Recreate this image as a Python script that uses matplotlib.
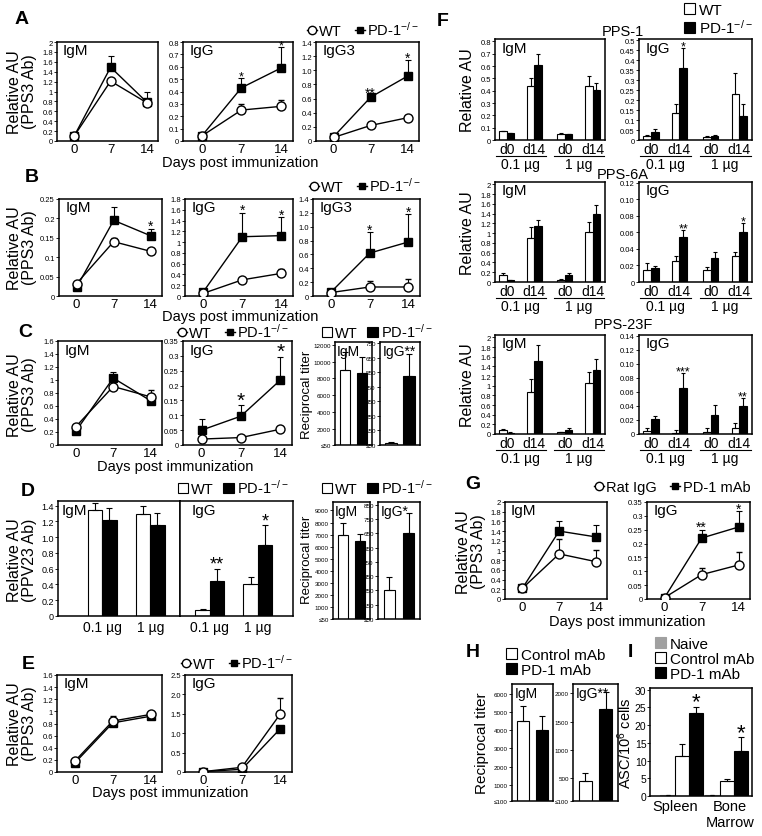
import matplotlib
matplotlib.use("Agg")
import matplotlib.pyplot as plt
import matplotlib.transforms as mtransforms
import numpy as np
from matplotlib.lines import Line2D
from matplotlib.patches import Patch

plt.rcParams['font.family'] = ['Liberation Sans', 'DejaVu Sans']
plt.rcParams['mathtext.default'] = 'regular'

W, H = 762, 837
KO = 'PD-1$^{-/-}$'
days = [0, 7, 14]

# ---- Panel A (PPS3, line plots)
a_igm_wt = [0.10, 1.21, 0.77]; a_igm_wt_e = [0.01, 0.02, 0.02]
a_igm_ko = [0.10, 1.49, 0.78]; a_igm_ko_e = [0.00, 0.22, 0.22]
a_igg_wt = [0.04, 0.25, 0.28]; a_igg_wt_e = [0.01, 0.05, 0.05]
a_igg_ko = [0.04, 0.43, 0.59]; a_igg_ko_e = [0.00, 0.08, 0.17]
a_igg3_wt = [0.05, 0.22, 0.33]; a_igg3_wt_e = [0.02, 0.05, 0.04]
a_igg3_ko = [0.06, 0.62, 0.92]; a_igg3_ko_e = [0.02, 0.02, 0.22]

# ---- Panel B
b_igm_wt = [0.032, 0.140, 0.115]; b_igm_wt_e = [0.003, 0.010, 0.010]
b_igm_ko = [0.022, 0.195, 0.155]; b_igm_ko_e = [0.000, 0.035, 0.018]
b_igg_wt = [0.05, 0.30, 0.42]; b_igg_wt_e = [0.03, 0.02, 0.08]
b_igg_ko = [0.08, 1.10, 1.12]; b_igg_ko_e = [0.03, 0.44, 0.34]
b_igg3_wt = [0.05, 0.13, 0.13]; b_igg3_wt_e = [0.01, 0.08, 0.12]
b_igg3_ko = [0.06, 0.62, 0.78]; b_igg3_ko_e = [0.02, 0.30, 0.40]

# ---- Panel C
c_igm_wt = [0.28, 0.90, 0.74]; c_igm_wt_e = [0.03, 0.03, 0.10]
c_igm_ko = [0.21, 1.03, 0.68]; c_igm_ko_e = [0.03, 0.09, 0.04]
c_igg_wt = [0.020, 0.025, 0.053]; c_igg_wt_e = [0.002, 0.002, 0.003]
c_igg_ko = [0.050, 0.097, 0.218]; c_igg_ko_e = [0.037, 0.037, 0.078]
c_titer_igm = [9000, 8700]; c_titer_igm_e = [2100, 1900]
c_titer_igg = [65, 525]; c_titer_igg_e = [6, 150]

# ---- Panel D (PPV23)
dose_labels = ['0.1 µg', '1 µg']
d_igm_wt = [1.35, 1.29]; d_igm_wt_e = [0.08, 0.11]
d_igm_ko = [1.22, 1.16]; d_igm_ko_e = [0.15, 0.15]
d_igg_wt = [0.07, 0.40]; d_igg_wt_e = [0.02, 0.10]
d_igg_ko = [0.44, 0.90]; d_igg_ko_e = [0.16, 0.25]
d_titer_igm = [7000, 6450]; d_titer_igm_e = [950, 630]
d_titer_igg = [250, 650]; d_titer_igg_e = [95, 145]

# ---- Panel E
e_igm_wt = [0.18, 0.84, 0.95]; e_igm_wt_e = [0.02, 0.08, 0.02]
e_igm_ko = [0.15, 0.81, 0.92]; e_igm_ko_e = [0.01, 0.02, 0.02]
e_igg_wt = [0.01, 0.12, 1.50]; e_igg_wt_e = [0.00, 0.03, 0.42]
e_igg_ko = [0.01, 0.07, 1.12]; e_igg_ko_e = [0.00, 0.01, 0.00]

# ---- Panel F (d0 / d14 at 0.1 and 1 µg)
f_days = ['d0', 'd14', 'd0', 'd14']
f1_igm_wt = [0.070, 0.44, 0.050, 0.44]; f1_igm_wt_e = [0.005, 0.065, 0.005, 0.08]
f1_igm_ko = [0.055, 0.61, 0.045, 0.41]; f1_igm_ko_e = [0.005, 0.09, 0.005, 0.05]
f1_igg_wt = [0.020, 0.135, 0.015, 0.23]; f1_igg_wt_e = [0.005, 0.045, 0.003, 0.105]
f1_igg_ko = [0.038, 0.360, 0.022, 0.12]; f1_igg_ko_e = [0.015, 0.10, 0.003, 0.06]
f6_igm_wt = [0.15, 0.90, 0.05, 1.02]; f6_igm_wt_e = [0.03, 0.22, 0.01, 0.22]
f6_igm_ko = [0.04, 1.15, 0.15, 1.40]; f6_igm_ko_e = [0.01, 0.12, 0.03, 0.18]
f6_igg_wt = [0.015, 0.025, 0.015, 0.032]; f6_igg_wt_e = [0.008, 0.006, 0.003, 0.004]
f6_igg_ko = [0.017, 0.054, 0.029, 0.061]; f6_igg_ko_e = [0.002, 0.009, 0.007, 0.010]
f23_igm_wt = [0.08, 0.87, 0.04, 1.05]; f23_igm_wt_e = [0.03, 0.27, 0.01, 0.23]
f23_igm_ko = [0.03, 1.52, 0.08, 1.33]; f23_igm_ko_e = [0.01, 0.33, 0.04, 0.22]
f23_igg_wt = [0.004, 0.001, 0.003, 0.009]; f23_igg_wt_e = [0.004, 0.005, 0.005, 0.006]
f23_igg_ko = [0.021, 0.065, 0.027, 0.040]; f23_igg_ko_e = [0.005, 0.022, 0.014, 0.011]

# ---- Panel G (Rat IgG vs PD-1 mAb)
g_igm_rat = [0.22, 0.93, 0.77]; g_igm_rat_e = [0.03, 0.30, 0.25]
g_igm_pd = [0.22, 1.40, 1.28]; g_igm_pd_e = [0.00, 0.20, 0.24]
g_igg_rat = [0.005, 0.088, 0.123]; g_igg_rat_e = [0.002, 0.025, 0.048]
g_igg_pd = [0.005, 0.220, 0.260]; g_igg_pd_e = [0.000, 0.030, 0.057]

# ---- Panel H
h_igm = [4500, 4000]; h_igm_e = [850, 760]
h_igg = [450, 1720]; h_igg_e = [150, 300]

# ---- Panel I
i_groups = ['Spleen', 'Bone\nMarrow']
i_naive = [0.3, 0.3]; i_naive_e = [0.1, 0.1]
i_ctrl = [11.3, 4.3]; i_ctrl_e = [3.4, 0.5]
i_pd1 = [23.3, 12.7]; i_pd1_e = [1.9, 3.9]

EK = dict(elinewidth=0.8, capthick=0.8, ecolor='k')

fig = plt.figure(figsize=(W / 100, H / 100), dpi=100)


def box(l, t, r, b):
    ax = fig.add_axes([l / W, 1 - b / H, (r - l) / W, (b - t) / H])
    for s in ax.spines.values():
        s.set_linewidth(1.1)
    return ax


def ftext(x, y, s, **kw):
    fig.text(x / W, 1 - y / H, s, **kw)


def gfmt(ticks):
    return ['%g' % v for v in ticks]


def dfmt(ticks, nd=1):
    return ['0'] + [('%.' + str(nd) + 'f') % v for v in ticks[1:]]


def yaxis(ax, ticks, labels, size=5.5, pad=1):
    ax.set_yticks(ticks)
    ax.set_yticklabels(labels)
    ax.tick_params(axis='y', labelsize=size, length=2, width=0.6, pad=pad)


def stars(ax, xs, tops, marks, size=10, dy=-3):
    for x, t, m in zip(xs, tops, marks):
        if m:
            ax.annotate(m, (x, t), xytext=(0, dy), textcoords='offset points',
                        ha='center', va='bottom', fontsize=size)


def name(ax, s, size=11):
    ax.text(0.06, 0.985, s, transform=ax.transAxes, ha='left', va='top', fontsize=size)


def line_panel(ax, wt, wt_e, ko, ko_e, ylim, ticks, labels, title, marks=None, ssize=10):
    z = np.zeros(3)
    ax.errorbar(days, ko, yerr=[z, ko_e], color='k', lw=1, marker='s', ms=5.5, mfc='k',
                mec='k', capsize=2, zorder=2, **EK)
    ax.errorbar(days, wt, yerr=[z, wt_e], color='k', lw=1, marker='o', ms=6.5, mfc='white',
                mec='k', mew=1, capsize=2, zorder=3, **EK)
    ax.set_xlim(-3.3, 16.1)
    ax.set_ylim(*ylim)
    ax.set_xticks(days)
    ax.tick_params(axis='x', labelsize=9.5, length=0, pad=1.5)
    yaxis(ax, ticks, labels)
    name(ax, title)
    if marks:
        tops = np.maximum(np.add(wt, wt_e), np.add(ko, ko_e))
        stars(ax, days, tops, marks, ssize)


def line_legend(x, y, labels=('WT', KO), size=10.5):
    hs = [Line2D([], [], color='k', lw=1, marker='o', ms=6, mfc='white', mec='k'),
          Line2D([], [], color='k', lw=1, marker='s', ms=5, mfc='k', mec='k')]
    fig.legend(hs, labels, loc='center', bbox_to_anchor=(x / W, 1 - y / H), ncol=2,
               frameon=False, fontsize=size, handlelength=0.7, handletextpad=0.15,
               columnspacing=0.9, borderpad=0, borderaxespad=0)


def bar_legend(x, y, labels=('WT', KO), colors=('white', 'black'), ncol=2, loc='center',
               size=10.5, spacing=0.2):
    hs = [Patch(facecolor=c, edgecolor='k' if c != '#a0a0a0' else c, lw=0.8) for c in colors]
    fig.legend(hs, labels, loc=loc, bbox_to_anchor=(x / W, 1 - y / H), ncol=ncol,
               frameon=False, fontsize=size, handlelength=0.75, handleheight=0.75,
               handletextpad=0.2, columnspacing=0.6, borderpad=0, borderaxespad=0,
               labelspacing=spacing)


def titer_panel(ax, vals, errs, ylim, ticks, labels, title, size=4.5):
    ax.bar([0, 1], vals, 0.62, color=['white', 'black'], edgecolor='k', lw=0.8,
           yerr=[[0, 0], errs], capsize=2, error_kw=EK)
    ax.set_xlim(-0.6, 1.6)
    ax.set_ylim(*ylim)
    ax.set_xticks([])
    yaxis(ax, ticks, labels, size)
    name(ax, title, 10)


f_pos = np.array([0, 1, 2.1, 3.1])


def f_panel(ax, wt, wt_e, ko, ko_e, ylim, ticks, labels, title, marks=None):
    w = 0.27
    z = np.zeros(4)
    ax.bar(f_pos - w / 2, wt, w, color='white', edgecolor='k', lw=0.8, yerr=[z, wt_e],
           capsize=1.5, error_kw=EK)
    ax.bar(f_pos + w / 2, ko, w, color='black', edgecolor='k', lw=0.8, yerr=[z, ko_e],
           capsize=1.5, error_kw=EK)
    ax.set_xticks([])
    yaxis(ax, ticks, labels)
    name(ax, title)
    if marks:
        stars(ax, f_pos + w / 2, np.add(ko, ko_e), marks, 9)
    base = ax.get_xaxis_transform()
    t1 = mtransforms.offset_copy(base, fig=fig, y=-6.5, units='points')
    t2 = mtransforms.offset_copy(base, fig=fig, y=-11.5, units='points')
    t3 = mtransforms.offset_copy(base, fig=fig, y=-17.5, units='points')
    for p, s in zip(f_pos, f_days):
        ax.text(p, 0, s, transform=t1, ha='center', va='center', fontsize=10)
    for a, b in [(-0.38, 1.42), (1.72, 3.5)]:
        ax.plot([a, b], [0, 0], transform=t2, color='k', lw=0.8, clip_on=False)
    ax.text(0.5, 0, dose_labels[0], transform=t3, ha='center', va='center', fontsize=10)
    ax.text(2.6, 0, dose_labels[1], transform=t3, ha='center', va='center', fontsize=10)
    ax.set_xlim(-0.42, 3.55)
    ax.set_ylim(*ylim)


# ================= A =================
t = np.arange(0, 2.01, 0.2)
ax = box(57, 43, 158, 142)
line_panel(ax, a_igm_wt, a_igm_wt_e, a_igm_ko, a_igm_ko_e, (0, 2), t, gfmt(t), 'IgM')
t = np.arange(0, 0.81, 0.1)
ax = box(183, 43, 293, 142)
line_panel(ax, a_igg_wt, a_igg_wt_e, a_igg_ko, a_igg_ko_e, (0, 0.8), t, gfmt(t), 'IgG',
           ['', '*', '*'], 9)
t = np.arange(0, 1.41, 0.2)
ax = box(316, 43, 419, 142)
line_panel(ax, a_igg3_wt, a_igg3_wt_e, a_igg3_ko, a_igg3_ko_e, (0, 1.4), t, dfmt(t), 'IgG3',
           ['', '**', '*'], 10)
ftext(22, 20, 'A', fontsize=14, fontweight='bold', ha='center', va='center')
line_legend(363, 30)
ftext(22, 92, 'Relative AU\n(PPS3 Ab)', rotation=90, ha='center', va='center', fontsize=11.5,
      multialignment='center', linespacing=0.95)
ftext(240, 163, 'Days post immunization', ha='center', va='center', fontsize=10.5)

# ================= B =================
t = np.arange(0, 0.251, 0.05)
ax = box(59, 200, 162, 297)
line_panel(ax, b_igm_wt, b_igm_wt_e, b_igm_ko, b_igm_ko_e, (0, 0.25), t, gfmt(t), 'IgM',
           ['', '', '*'], 10)
t = np.arange(0, 1.81, 0.2)
ax = box(185, 200, 293, 297)
line_panel(ax, b_igg_wt, b_igg_wt_e, b_igg_ko, b_igg_ko_e, (0, 1.8), t, gfmt(t), 'IgG',
           ['', '*', '*'], 10)
t = np.arange(0, 1.41, 0.2)
ax = box(313, 200, 420, 297)
line_panel(ax, b_igg3_wt, b_igg3_wt_e, b_igg3_ko, b_igg3_ko_e, (0, 1.4), t, dfmt(t), 'IgG3',
           ['', '*', '*'], 10)
ftext(32, 177, 'B', fontsize=14, fontweight='bold', ha='center', va='center')
line_legend(365, 186)
ftext(22, 248, 'Relative AU\n(PPS3 Ab)', rotation=90, ha='center', va='center', fontsize=11.5,
      multialignment='center', linespacing=0.95)
ftext(240, 317, 'Days post immunization', ha='center', va='center', fontsize=10.5)

# ================= C =================
t = np.arange(0, 1.61, 0.2)
ax = box(58, 342, 162, 446)
line_panel(ax, c_igm_wt, c_igm_wt_e, c_igm_ko, c_igm_ko_e, (0, 1.6), t, gfmt(t), 'IgM')
t = np.arange(0, 0.351, 0.05)
ax = box(183, 342, 292, 446)
line_panel(ax, c_igg_wt, c_igg_wt_e, c_igg_ko, c_igg_ko_e, (0, 0.35), t, gfmt(t), 'IgG',
           ['', '*', '*'], 15)
t = [50, 2000, 4000, 6000, 8000, 10000, 12000]
ax = box(335, 343, 372, 446)
titer_panel(ax, c_titer_igm, c_titer_igm_e, (50, 12350), t, ['≤50'] + [str(v) for v in t[1:]], 'IgM')
t = [50, 150, 250, 350, 450, 550, 650, 750]
ax = box(380, 343, 420, 446)
titer_panel(ax, c_titer_igg, c_titer_igg_e, (50, 760), t, ['≤50'] + [str(v) for v in t[1:]], 'IgG**')
ftext(25, 333, 'C', fontsize=14, fontweight='bold', ha='center', va='center')
line_legend(233, 332)
bar_legend(377, 332)
ftext(22, 395, 'Relative AU\n(PPS3 Ab)', rotation=90, ha='center', va='center', fontsize=11.5,
      multialignment='center', linespacing=0.95)
ftext(307, 395, 'Reciprocal titer', rotation=90, ha='center', va='center', fontsize=9.5)
ftext(175, 467, 'Days post immunization', ha='center', va='center', fontsize=10.5)

# ================= D =================
t = np.arange(0, 1.41, 0.2)
for (l, r, xl, wt, wte, ko, koe, title, marks) in [
        (58, 180, (-0.92, 1.62), d_igm_wt, d_igm_wt_e, d_igm_ko, d_igm_ko_e, 'IgM', None),
        (180, 293, (-0.62, 1.73), d_igg_wt, d_igg_wt_e, d_igg_ko, d_igg_ko_e, 'IgG', ['**', '*'])]:
    ax = box(l, 502, r, 617)
    x = np.arange(2)
    ax.bar(x - 0.15, wt, 0.3, color='white', edgecolor='k', lw=0.8, yerr=[np.zeros(2), wte],
           capsize=2, error_kw=EK)
    ax.bar(x + 0.15, ko, 0.3, color='black', edgecolor='k', lw=0.8, yerr=[np.zeros(2), koe],
           capsize=2, error_kw=EK)
    ax.set_xlim(*xl)
    ax.set_ylim(0, 1.46)
    ax.set_xticks(x)
    ax.set_xticklabels(dose_labels)
    ax.tick_params(axis='x', length=0, labelsize=10, pad=3)
    yaxis(ax, t, dfmt(t), 6.5)
    if title == 'IgG':
        ax.tick_params(axis='y', left=False, labelleft=False)
        stars(ax, x + 0.15, np.add(ko, koe), marks, 13)
    ax.text(0.03 if title == 'IgM' else 0.1, 0.985, title, transform=ax.transAxes,
            ha='left', va='top', fontsize=11)
t = [50, 1000, 2000, 3000, 4000, 5000, 6000, 7000, 8000, 9000]
ax = box(333, 503, 370, 620)
titer_panel(ax, d_titer_igm, d_titer_igm_e, (50, 9700), t, ['≤50'] + [str(v) for v in t[1:]], 'IgM')
t = [50, 150, 250, 350, 450, 550, 650, 750, 850]
ax = box(378, 503, 420, 620)
titer_panel(ax, d_titer_igg, d_titer_igg_e, (50, 870), t, ['≤50'] + [str(v) for v in t[1:]], 'IgG*')
ftext(28, 492, 'D', fontsize=14, fontweight='bold', ha='center', va='center')
bar_legend(233, 488)
bar_legend(377, 488)
ftext(22, 560, 'Relative AU\n(PPV23 Ab)', rotation=90, ha='center', va='center', fontsize=11.5,
      multialignment='center', linespacing=0.95)
ftext(307, 560, 'Reciprocal titer', rotation=90, ha='center', va='center', fontsize=9.5)

# ================= E =================
t = np.arange(0, 1.61, 0.2)
ax = box(57, 676, 162, 773)
line_panel(ax, e_igm_wt, e_igm_wt_e, e_igm_ko, e_igm_ko_e, (0, 1.6), t, gfmt(t), 'IgM')
t = np.arange(0, 2.51, 0.5)
ax = box(185, 676, 292, 773)
line_panel(ax, e_igg_wt, e_igg_wt_e, e_igg_ko, e_igg_ko_e, (0, 2.5), t, dfmt(t), 'IgG')
ftext(28, 665, 'E', fontsize=14, fontweight='bold', ha='center', va='center')
line_legend(237, 663)
ftext(22, 724, 'Relative AU\n(PPS3 Ab)', rotation=90, ha='center', va='center', fontsize=11.5,
      multialignment='center', linespacing=0.95)
ftext(170, 793, 'Days post immunization', ha='center', va='center', fontsize=10.5)

# ================= F =================
rows = [
    ('PPS-1', 40, 141, 32, 90,
     (f1_igm_wt, f1_igm_wt_e, f1_igm_ko, f1_igm_ko_e, (0, 0.82), np.arange(0, 0.81, 0.1), None),
     (f1_igg_wt, f1_igg_wt_e, f1_igg_ko, f1_igg_ko_e, (0, 0.505), np.arange(0, 0.501, 0.05),
      ['', '*', '', ''])),
    ('PPS-6A', 183, 283, 175, 233,
     (f6_igm_wt, f6_igm_wt_e, f6_igm_ko, f6_igm_ko_e, (0, 2.05), np.arange(0, 2.01, 0.2), None),
     (f6_igg_wt, f6_igg_wt_e, f6_igg_ko, f6_igg_ko_e, (0, 0.121), np.arange(0, 0.121, 0.02),
      ['', '**', '', '*'])),
    ('PPS-23F', 336, 435, 325, 385,
     (f23_igm_wt, f23_igm_wt_e, f23_igm_ko, f23_igm_ko_e, (0, 2.05), np.arange(0, 2.01, 0.2), None),
     (f23_igg_wt, f23_igg_wt_e, f23_igg_ko, f23_igg_ko_e, (0, 0.141), np.arange(0, 0.141, 0.02),
      ['', '***', '', '**'])),
]
for title, top, bot, ty, ly, igm, igg in rows:
    ax = box(495, top, 605, bot)
    f_panel(ax, igm[0], igm[1], igm[2], igm[3], igm[4], igm[5], gfmt(igm[5]), 'IgM', igm[6])
    ax = box(639, top, 752, bot)
    lab = gfmt(igg[5]) if title == 'PPS-1' else dfmt(igg[5], 2)
    f_panel(ax, igg[0], igg[1], igg[2], igg[3], igg[4], igg[5], lab, 'IgG', igg[6])
    ftext(623, ty, title, ha='center', va='center', fontsize=10.5)
    ftext(468, ly, 'Relative AU', rotation=90, ha='center', va='center', fontsize=11.5)
ftext(443, 22, 'F', fontsize=14, fontweight='bold', ha='center', va='center')
bar_legend(684, 4, ncol=1, loc='upper left', size=11, spacing=0.05)

# ================= G =================
t = np.arange(0, 2.01, 0.2)
ax = box(505, 503, 607, 600)
line_panel(ax, g_igm_rat, g_igm_rat_e, g_igm_pd, g_igm_pd_e, (0, 2), t, gfmt(t), 'IgM')
t = np.arange(0, 0.351, 0.05)
ax = box(647, 503, 750, 600)
line_panel(ax, g_igg_rat, g_igg_rat_e, g_igg_pd, g_igg_pd_e, (0, 0.35), t, gfmt(t), 'IgG',
           ['', '**', '*'], 10)
ftext(473, 485, 'G', fontsize=14, fontweight='bold', ha='center', va='center')
line_legend(672, 488, ('Rat IgG', 'PD-1 mAb'))
ftext(471, 552, 'Relative AU\n(PPS3 Ab)', rotation=90, ha='center', va='center', fontsize=11.5,
      multialignment='center', linespacing=0.95)
ftext(627, 622, 'Days post immunization', ha='center', va='center', fontsize=10.5)

# ================= H =================
t = [100, 1000, 2000, 3000, 4000, 5000, 6000]
ax = box(512, 685, 553, 802)
titer_panel(ax, h_igm, h_igm_e, (100, 6550), t, ['≤100'] + [str(v) for v in t[1:]], 'IgM')
t = [100, 500, 1000, 1500, 2000]
ax = box(573, 685, 618, 802)
titer_panel(ax, h_igg, h_igg_e, (100, 2165), t, ['≤100'] + [str(v) for v in t[1:]], 'IgG**')
ftext(473, 653, 'H', fontsize=14, fontweight='bold', ha='center', va='center')
bar_legend(506, 649, labels=('Control mAb', 'PD-1 mAb'), ncol=1, loc='upper left', size=11,
           spacing=0.05)
ftext(482, 743, 'Reciprocal titer', rotation=90, ha='center', va='center', fontsize=11)

# ================= I =================
ax = box(650, 689, 752, 797)
x = np.arange(2)
w = 0.32
ax.bar(x - w, i_naive, w, color='#a0a0a0', edgecolor='#a0a0a0', lw=0.8,
       yerr=[np.zeros(2), i_naive_e], capsize=1.5, error_kw=EK)
ax.bar(x, i_ctrl, w, color='white', edgecolor='k', lw=0.8,
       yerr=[np.zeros(2), i_ctrl_e], capsize=2, error_kw=EK)
ax.bar(x + w, i_pd1, w, color='black', edgecolor='k', lw=0.8,
       yerr=[np.zeros(2), i_pd1_e], capsize=2, error_kw=EK)
ax.set_xlim(-0.71, 1.56)
ax.set_ylim(0, 30.5)
t = np.arange(0, 31, 5)
yaxis(ax, t, gfmt(t), 7.5, 0.5)
ax.set_xticks(x + np.array([-0.16, 0.07]))
ax.set_xticklabels(i_groups)
ax.tick_params(axis='x', length=0, labelsize=10.5, pad=2)
stars(ax, x + w, np.add(i_pd1, i_pd1_e), ['*', '*'], 16, -4)
ftext(630, 653, 'I', fontsize=14, fontweight='bold', ha='center', va='center')
bar_legend(655, 638, labels=('Naive', 'Control mAb', 'PD-1 mAb'),
           colors=('#a0a0a0', 'white', 'black'), ncol=1, loc='upper left', size=11, spacing=0.05)
ftext(625, 743, 'ASC/10$^6$ cells', rotation=90, ha='center', va='center', fontsize=10.5)

fig.savefig('out.png', dpi=100)
